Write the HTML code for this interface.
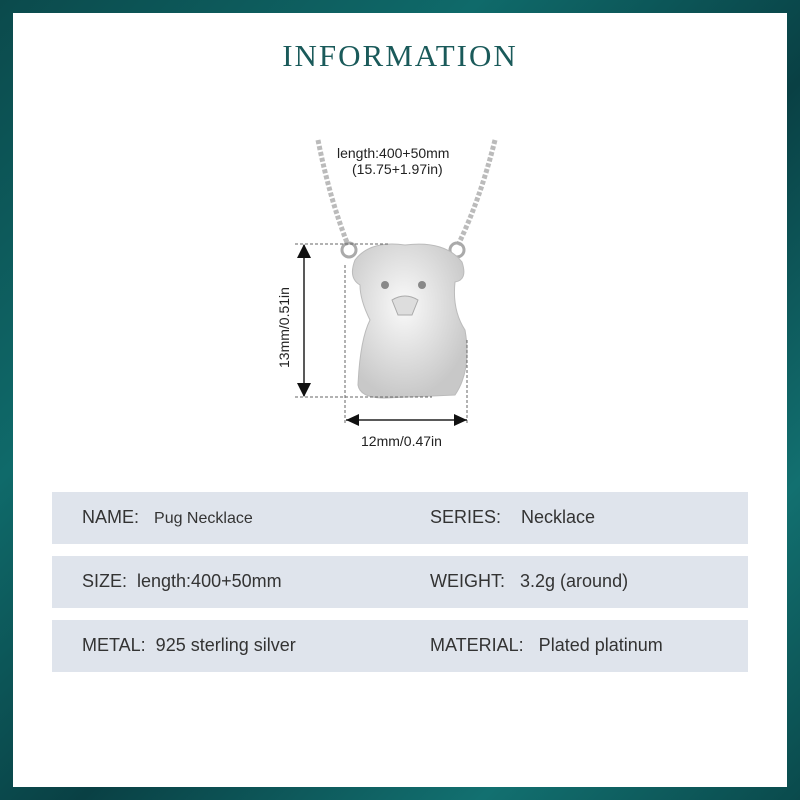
<!DOCTYPE html>
<html><head><meta charset="utf-8"><style>
body{margin:0;width:800px;height:800px;background:linear-gradient(135deg,#0b4a4c,#0f6a6a 30%,#094044 55%,#127070 80%,#0a4a4c);position:relative;overflow:hidden;font-family:"Liberation Sans",sans-serif}
.panel{position:absolute;left:13px;top:13px;width:774px;height:774px;background:#fff}
.title{position:absolute;left:0;width:800px;top:38px;text-align:center;font-family:"Liberation Serif",serif;font-size:31px;letter-spacing:2px;color:#1a5a5a}
.row{position:absolute;left:52px;width:696px;height:52px;background:#dfe4ec;color:#333;font-size:18px}
.row span{position:absolute;top:15px}
</style></head><body>
<div class="panel"></div>
<div class="title">INFORMATION</div>
<svg style="position:absolute;left:0;top:0" width="800" height="480">
<defs><radialGradient id="g" cx="45%" cy="40%" r="60%"><stop offset="0" stop-color="#fafafa"/><stop offset="1" stop-color="#c8c8c8"/></radialGradient></defs>
<path d="M318 140 Q330 200 348 245" stroke="#bbb" stroke-width="5" fill="none" stroke-dasharray="4 2"/>
<path d="M495 140 Q480 200 458 245" stroke="#bbb" stroke-width="5" fill="none" stroke-dasharray="4 2"/>
<circle cx="349" cy="250" r="7" fill="none" stroke="#aaa" stroke-width="3"/>
<circle cx="457" cy="250" r="7" fill="none" stroke="#aaa" stroke-width="3"/>
<path d="M355 260 Q370 240 405 245 Q445 240 462 262 Q468 280 455 282 Q452 310 465 330 Q472 370 455 395 L385 398 Q360 398 358 385 Q360 340 370 320 Q360 300 360 285 Q348 278 355 260Z" fill="url(#g)" stroke="#bbb"/>
<circle cx="385" cy="285" r="4" fill="#888"/><circle cx="422" cy="285" r="4" fill="#888"/>
<path d="M392 300 Q405 292 418 300 L412 315 L398 315Z" fill="#ddd" stroke="#aaa"/>
<g stroke="#666" stroke-dasharray="3 2" fill="none"><path d="M295 244H390M295 397H432M345 265V425M467 340V425"/></g>
<path d="M304 245V396" stroke="#222" stroke-width="1.5"/>
<path d="M297 258L304 244L311 258Z M297 383L304 397L311 383Z" fill="#111"/>
<path d="M346 420H467" stroke="#222" stroke-width="1.5"/>
<path d="M359 414L346 420L359 426Z M454 414L467 420L454 426Z" fill="#111"/>
<text x="337" y="158" font-size="14" fill="#222">length:400+50mm</text>
<text x="352" y="174" font-size="14" fill="#222">(15.75+1.97in)</text>
<text x="361" y="446" font-size="14" fill="#222">12mm/0.47in</text>
<text transform="translate(289 368) rotate(-90)" font-size="14" fill="#222">13mm/0.51in</text>
</svg>
<div class="row" style="top:492px"><span style="left:30px">NAME:&nbsp;&nbsp; <small style="font-size:16px">Pug Necklace</small></span><span style="left:378px">SERIES:&nbsp;&nbsp;&nbsp; Necklace</span></div>
<div class="row" style="top:556px"><span style="left:30px">SIZE:&nbsp; length:400+50mm</span><span style="left:378px">WEIGHT:&nbsp;&nbsp; 3.2g (around)</span></div>
<div class="row" style="top:620px"><span style="left:30px">METAL:&nbsp; 925 sterling silver</span><span style="left:378px">MATERIAL:&nbsp;&nbsp; Plated platinum</span></div>
</body></html>
